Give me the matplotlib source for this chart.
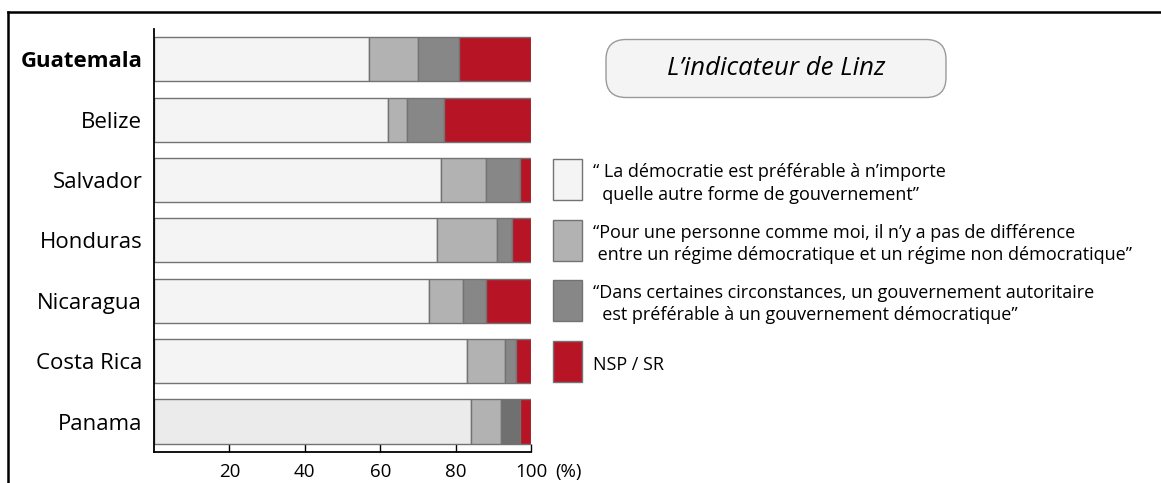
"""L'indicateur de Linz - stacked horizontal bars"""

import matplotlib
matplotlib.use("Agg")
import matplotlib.pyplot as plt
from matplotlib.patches import Rectangle, FancyBboxPatch
from matplotlib.lines import Line2D
from matplotlib.transforms import blended_transform_factory, IdentityTransform

plt.rcParams['font.family'] = ['Open Sans', 'DejaVu Sans']

# data (top to bottom)
countries = ["Guatemala", "Belize", "Salvador", "Honduras", "Nicaragua", "Costa Rica", "Panama"]
democratie = [57, 62, 76, 75, 73, 83, 84]
indifferent = [13, 5, 12, 16, 9, 10, 8]
autoritaire = [11, 10, 9, 4, 6, 3, 5]
nsp = [19, 23, 3, 5, 12, 4, 3]

legend_labels = [
	"\u201c La démocratie est préférable à n\u2019importe\n  quelle autre forme de gouvernement\u201d",
	"\u201cPour une personne comme moi, il n\u2019y a pas de différence\n entre un régime démocratique et un régime non démocratique\u201d",
	"\u201cDans certaines circonstances, un gouvernement autoritaire\n  est préférable à un gouvernement démocratique\u201d",
	"NSP / SR",
]
xticks = [20, 40, 60, 80, 100]

colors = ['#f4f4f4', '#b2b2b2', '#878787', '#b71426']
edge = '#737373'

W, H = 1161, 483
fig = plt.figure(figsize=(W / 100, H / 100), dpi=100)
ax = fig.add_axes([154 / W, 1 - 451.7 / H, 377 / W, (451.7 - 29) / H])

n = len(countries)
ypos = [n - 1 - i for i in range(n)]
series = [democratie, indifferent, autoritaire, nsp]
left = [0] * n
for k, vals in enumerate(series):
	cols = [colors[k]] * n
	# Panama is drawn a bit darker in the source
	if k == 0:
		cols[-1] = '#ebebeb'
	if k == 2:
		cols[-1] = '#707070'
	ax.barh(ypos, vals, left=left, height=0.73, color=cols,
			edgecolor=edge, linewidth=1.0, zorder=2)
	left = [a + b for a, b in zip(left, vals)]

ax.set_xlim(0, 100)
ax.set_ylim(-0.5, n - 0.5)
ax.set_yticks(ypos)
ax.set_yticklabels(countries, fontsize=16)
ax.get_yticklabels()[0].set_fontweight('bold')
ax.tick_params(axis='y', length=0, pad=8.5)
ax.set_xticks(xticks)
ax.set_xticklabels([str(t) for t in xticks], fontsize=13.5)
ax.tick_params(axis='x', direction='in', length=6, width=1.0, color='black', pad=8)
for s in ['top', 'right']:
	ax.spines[s].set_visible(False)
for s in ['left', 'bottom']:
	ax.spines[s].set_linewidth(1.3)
	ax.spines[s].set_color('black')

# "(%)" next to the last tick label
tb = blended_transform_factory(ax.transData, fig.transFigure)
ax.text(106.5, 1 - 477 / H, "(%)", transform=tb, fontsize=13.5,
		ha='left', va='baseline', clip_on=False)

# title box (pixel coordinates)
box = FancyBboxPatch((606, H - 97.5), 340, 58,
					 boxstyle="round,pad=0,rounding_size=20",
					 transform=IdentityTransform(), facecolor='#f4f4f4',
					 edgecolor='#9a9a9a', linewidth=1.0)
fig.add_artist(box)
fig.text(776 / W, 1 - 68.5 / H, "L\u2019indicateur de Linz", fontsize=18.5,
		 style='italic', ha='center', va='center')

# legend aligned with bar rows
trans = blended_transform_factory(fig.transFigure, ax.transData)
for k, lab in enumerate(legend_labels):
	yc = ypos[2 + k]
	fig.add_artist(Rectangle((553 / W, yc - 0.34), 29 / W, 0.68, transform=trans,
							 facecolor=colors[k], edgecolor=edge, linewidth=1.0))
	fig.text(593 / W, yc - 0.06, lab, transform=trans, fontsize=13,
			 ha='left', va='center', linespacing=1.3)

# frame lines of the original picture
fig.add_artist(Line2D([8 / W, 1], [1 - 12 / H, 1 - 12 / H], color='black', lw=1.8,
					  transform=fig.transFigure))
fig.add_artist(Line2D([8 / W, 8 / W], [0, 1 - 12 / H], color='black', lw=1.8,
					  transform=fig.transFigure))

fig.savefig("out.png", dpi=100)
